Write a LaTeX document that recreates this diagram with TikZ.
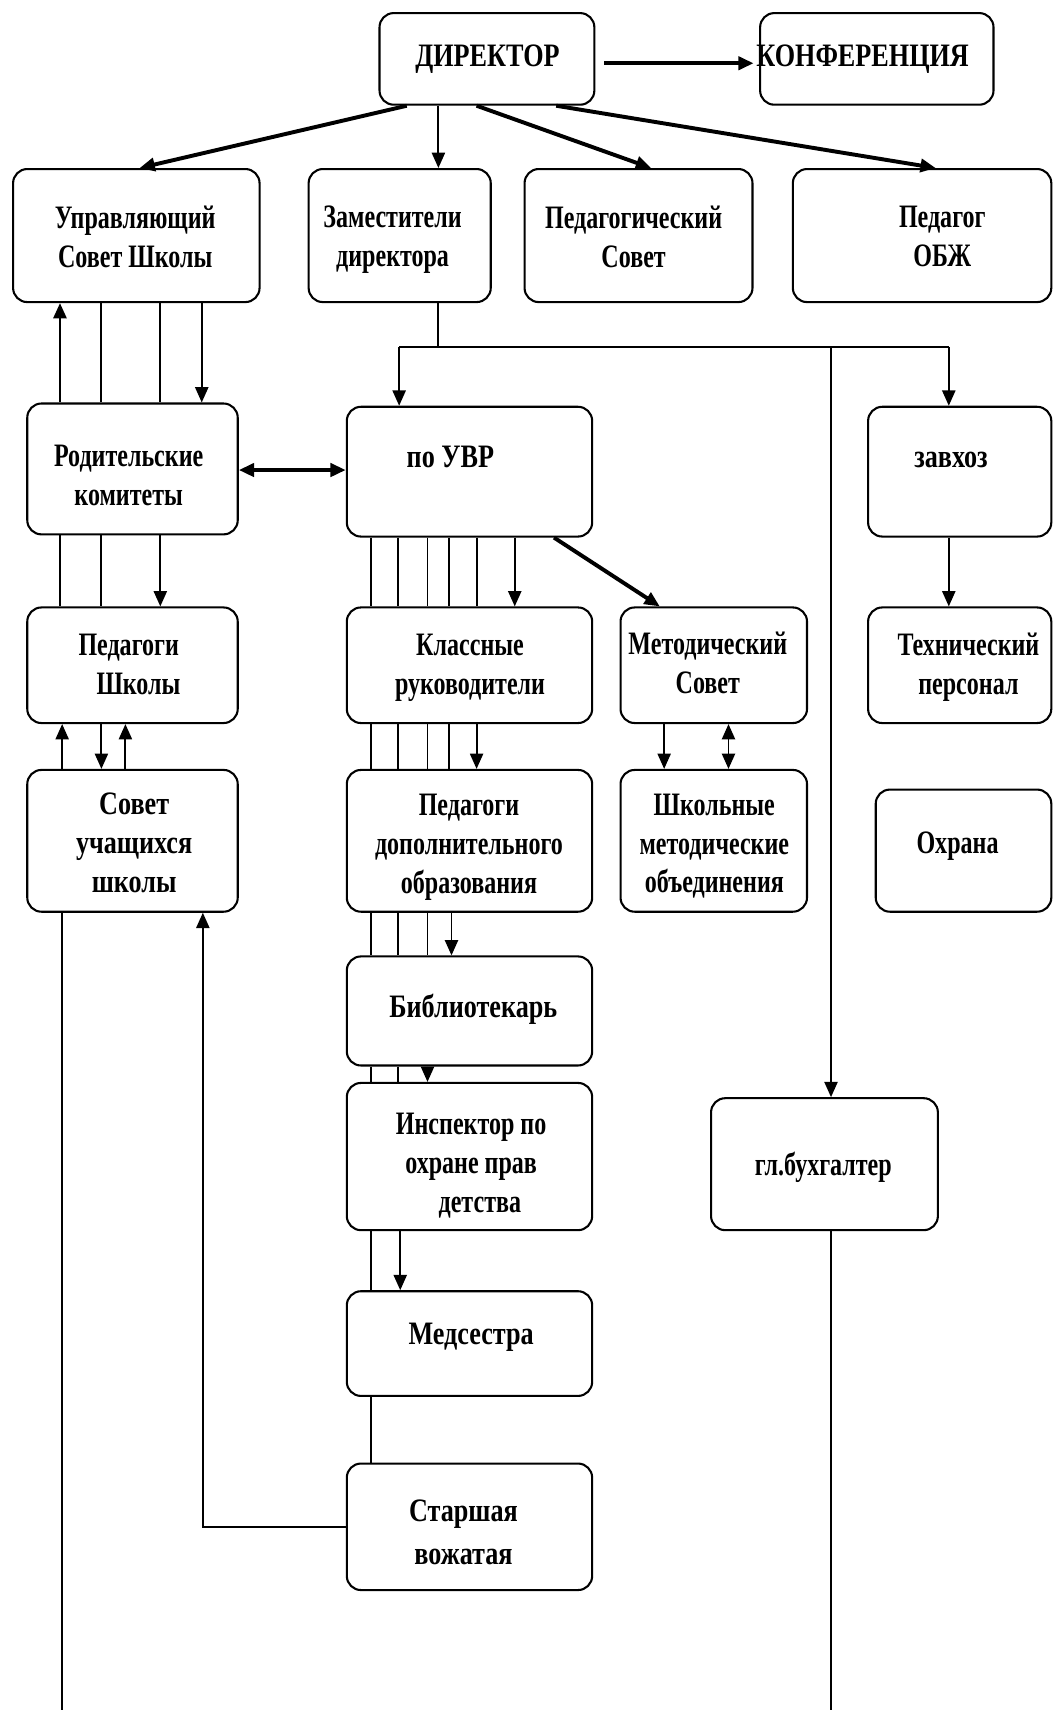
\documentclass[tikz,border=0pt]{standalone}
\usepackage{fontspec}
\newfontfamily\lblfont{Liberation Serif}[FakeStretch=0.735]
\newfontfamily\lblfontw{Liberation Serif}[FakeStretch=0.80]
\usetikzlibrary{arrows.meta,fit}
\begin{document}
\begin{tikzpicture}[x=0.5pt,y=-0.5pt,
  box/.style={draw, line width=0.95pt, rounded corners=6.5pt, inner sep=0pt},
  lbl/.style={font=\lblfont\bfseries\fontsize{15}{17.8}\selectfont, align=center, inner sep=0pt},
  lblw/.style={lbl, font=\lblfontw\bfseries\fontsize{15}{18}\selectfont},
  conn/.style={line width=0.9pt},
  heavy/.style={line width=1.8pt},
  tip/.style={-{Triangle[length=7pt,width=6pt]}},
  tips/.style={{Triangle[length=7pt,width=6pt]}-{Triangle[length=7pt,width=6pt]}}
]
\useasboundingbox (0,0) rectangle (966,1568);

% boxes
\node[box, fit={(348,12) (545,96)}] (dir) {};
\node[box, fit={(697,12) (911,96)}] (conf) {};
\node[box, fit={(12,155) (238,277)}] (upr) {};
\node[box, fit={(283,155) (450,277)}] (zam) {};
\node[box, fit={(481,155) (690,277)}] (ped) {};
\node[box, fit={(727,155) (964,277)}] (obzh) {};
\node[box, fit={(25,370) (218,490)}] (rod) {};
\node[box, fit={(318,373) (543,492)}] (uvr) {};
\node[box, fit={(796,373) (964,492)}] (zavhoz) {};
\node[box, fit={(25,557) (218,663)}] (pedsh) {};
\node[box, fit={(318,557) (543,663)}] (klass) {};
\node[box, fit={(569,557) (740,663)}] (metod) {};
\node[box, fit={(796,557) (964,663)}] (tech) {};
\node[box, fit={(25,706) (218,836)}] (sovet) {};
\node[box, fit={(318,706) (543,836)}] (pdo) {};
\node[box, fit={(569,706) (740,836)}] (shmo) {};
\node[box, fit={(803,724) (964,836)}] (ohrana) {};
\node[box, fit={(318,877) (543,977)}] (bib) {};
\node[box, fit={(318,993) (543,1128)}] (insp) {};
\node[box, fit={(652,1007) (860,1128)}] (buh) {};
\node[box, fit={(318,1184) (543,1280)}] (med) {};
\node[box, fit={(318,1342) (543,1458)}] (star) {};

% texts
\node[lblw] (t-dir) at (447,54) {ДИРЕКТОР};
\node[lblw] (t-conf) at (791,54) {КОНФЕРЕНЦИЯ};
\node[lbl] (t-upr) at (124,217) {Управляющий\\Совет Школы};
\node[lbl] (t-zam) at (360,220) {Заместители\\директора};
\node[lbl] (t-ped) at (581,217) {Педагогический\\Совет};
\node[lbl] (t-obzh) at (864,217) {Педагог\\ОБЖ};
\node[lbl] (t-rod) at (118,436) {Родительские\\комитеты};
\node[lblw] (t-uvr) at (413,419) {по УВР};
\node[lblw] (t-zavhoz) at (872,422) {завхоз};
\node[lbl] (t-pedsh) at (118,609) {Педагоги\\\hspace*{9pt}Школы};
\node[lbl] (t-klass) at (431,612) {Классные\\руководители};
\node[lbl] (t-metod) at (649,608) {Методический\\Совет};
\node[lbl] (t-tech) at (888,612) {Технический\\персонал};
\node[lblw] (t-sovet) at (123,773) {Совет\\учащихся\\школы};
\node[lbl] (t-pdo) at (430,777) {Педагоги\\дополнительного\\образования};
\node[lbl] (t-shmo) at (655,776) {Школьные\\методические\\объединения};
\node[lbl] (t-ohrana) at (878,776) {Охрана};
\node[lblw] (t-bib) at (434,925) {Библиотекарь};
\node[lbl] (t-insp) at (432,1069) {Инспектор по\\охране прав\\\hspace*{8pt}детства};
\node[lbl] (t-buh) at (755,1070) {гл.бухгалтер};
\node[lblw] (t-med) at (432,1226) {Медсестра};
\node[lblw, font=\lblfontw\bfseries\fontsize{15}{20}\selectfont] (t-star) at (425,1405) {Старшая\\вожатая};

% column / row helper coordinates
\foreach \c in {55,57,93,115,128,147,185,186,340,365,367,373,392,402,412,414,437,472,508,510,597,605,609,668,762,858,870}
  \coordinate (c\c) at (\c,0);
\coordinate (r58) at (0,58);
\coordinate (r431) at (0,431);
\coordinate (busZ) at (402,318);
\coordinate (busL) at (366,318);
\coordinate (busR) at (870,318);
\coordinate (busB) at (762,318);
\coordinate (endL) at (57,1568);
\coordinate (endR) at (762,1568);

% director connectors
\draw[heavy,tip] (dir.south -| c373) -- (upr.north -| c128);
\draw[conn,tip] (dir.south -| c402) -- (zam.north -| c402);
\draw[heavy,tip] (dir.south -| c437) -- (ped.north -| c597);
\draw[heavy,tip] (dir.south -| c510) -- (obzh.north -| c858);
\draw[heavy,tip,shorten <=4pt,shorten >=2.5pt] (dir.east |- r58) -- (conf.west |- r58);

% left column
\draw[conn,tip,line width=1.2pt] (rod.north -| c55) -- (upr.south -| c55);
\foreach \c in {93,147} \draw[conn] (upr.south -| c\c) -- (rod.north -| c\c);
\draw[conn,tip] (upr.south -| c185) -- (rod.north -| c185);
\foreach \c in {55,93} \draw[conn] (rod.south -| c\c) -- (pedsh.north -| c\c);
\draw[conn,tip] (rod.south -| c147) -- (pedsh.north -| c147);
\draw[conn,tip] (sovet.north -| c57) -- (pedsh.south -| c57);
\draw[conn,tip] (pedsh.south -| c93) -- (sovet.north -| c93);
\draw[conn,tip] (sovet.north -| c115) -- (pedsh.south -| c115);
\draw[conn] (sovet.south -| c57) -- (endL);
\draw[conn,tip] (star.west) -| (sovet.south -| c186);
\draw[heavy,tips] (rod.east |- r431) -- (uvr.west |- r431);

% deputy bus
\draw[conn] (zam.south -| busZ) -- (busZ);
\draw[conn] (busL) -- (busR);
\draw[conn,tip] (busL) -- (uvr.north -| busL);
\draw[conn,tip] (busR) -- (zavhoz.north -| busR);
\draw[conn,tip] (busB) -- (buh.north -| busB);

% middle column
\foreach \c in {340,365,392,412,437} \draw[conn] (uvr.south -| c\c) -- (klass.north -| c\c);
\draw[conn,tip] (uvr.south -| c472) -- (klass.north -| c472);
\draw[heavy,tip] (uvr.south -| c508) -- (metod.north -| c605);
\foreach \c in {340,365,392,412} \draw[conn] (klass.south -| c\c) -- (pdo.north -| c\c);
\draw[conn,tip] (klass.south -| c437) -- (pdo.north -| c437);
\foreach \c in {340,365,392} \draw[conn] (pdo.south -| c\c) -- (bib.north -| c\c);
\draw[conn,tip] (pdo.south -| c414) -- (bib.north -| c414);
\foreach \c in {340,365} \draw[conn] (bib.south -| c\c) -- (insp.north -| c\c);
\draw[conn,tip] (bib.south -| c392) -- (insp.north -| c392);
\draw[conn] (insp.south -| c340) -- (med.north -| c340);
\draw[conn,tip] (insp.south -| c367) -- (med.north -| c367);
\draw[conn] (med.south -| c340) -- (star.north -| c340);

% right side
\draw[conn,tip] (metod.south -| c609) -- (shmo.north -| c609);
\draw[conn,tips] (metod.south -| c668) -- (shmo.north -| c668);
\draw[conn,tip] (zavhoz.south -| c870) -- (tech.north -| c870);
\draw[conn] (buh.south -| c762) -- (endR);
\end{tikzpicture}
\end{document}
